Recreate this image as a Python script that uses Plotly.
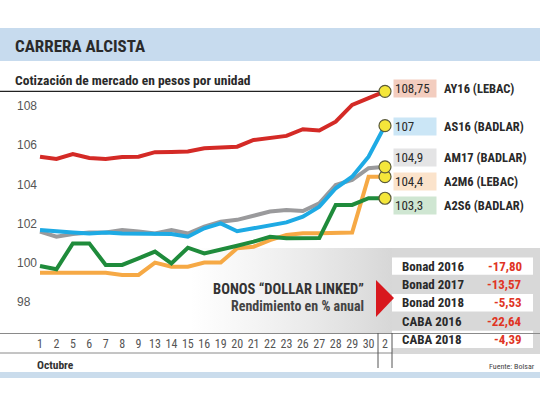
import plotly.graph_objects as go

# ---------------- data ----------------
dias = ["1", "2", "5", "6", "7", "8", "9", "13", "14", "15", "16", "19", "20",
        "21", "22", "23", "26", "27", "28", "29", "30", "2"]

ay16 = [105.42, 105.30, 105.55, 105.35, 105.30, 105.40, 105.42, 105.65, 105.66, 105.68, 105.85,
        105.88, 105.93, 106.27, 106.36, 106.48, 106.82, 106.75, 107.20, 108.06, 108.40, 108.75]
as16 = [101.68, 101.60, 101.55, 101.50, 101.55, 101.50, 101.48, 101.48, 101.48, 101.34, 101.77,
        102.02, 101.62, 101.77, 101.94, 102.07, 102.36, 102.87, 103.81, 104.40, 105.42, 107.00]
am17 = [101.60, 101.34, 101.48, 101.55, 101.55, 101.68, 101.60, 101.50, 101.68, 101.50, 101.85,
        102.10, 102.20, 102.40, 102.62, 102.70, 102.65, 103.04, 103.98, 104.23, 104.83, 104.90]
a2m6 = [99.50, 99.50, 99.50, 99.50, 99.50, 99.39, 99.39, 100.02, 99.81, 99.81, 100.02,
        100.02, 100.75, 100.83, 101.17, 101.43, 101.51, 101.51, 101.51, 101.55, 104.40, 104.40]
a2s6 = [99.85, 99.68, 101.00, 101.00, 99.90, 99.90, 100.24, 100.58, 99.98, 100.78, 100.49,
        100.66, 100.88, 101.09, 101.34, 101.26, 101.26, 101.27, 102.96, 102.96, 103.30, 103.30]

series_names = ["AY16 (LEBAC)", "AS16 (BADLAR)", "AM17 (BADLAR)", "A2M6 (LEBAC)", "A2S6 (BADLAR)"]
series_values = [ay16, as16, am17, a2m6, a2s6]
final_labels = ["108,75", "107", "104,9", "104,4", "103,3"]

y_ticks = [98, 100, 102, 104, 106, 108]

bonos = ["Bonad 2016", "Bonad 2017", "Bonad 2018", "CABA 2016", "CABA 2018"]
rendimiento = [-17.80, -13.57, -5.53, -22.64, -4.39]

# ---------------- styles ----------------
W, H = 540, 405
line_colors = ["#d42a26", "#1eaae4", "#9a9a9c", "#f6a945", "#1f8b3b"]
box_colors = ["#f3cdbf", "#cbe6f6", "#e4e4e5", "#fbe3cb", "#cfe6d2"]
label_yshift = [3, -1, 9, -5, -7]
draw_order = [0, 2, 1, 3, 4]
NARROW = "Liberation Sans Narrow, Roboto Condensed, Arial Narrow, sans-serif"
SANS = "Liberation Sans, Arial, sans-serif"


def px(x):
    return x / W


def py(y):
    return 1 - y / H


fig = go.Figure()

# base (decorative) axes in pixel space: gradient panel behind "dollar linked" text
fig.add_trace(go.Scatter(
    x=[190, 392, 392, 190, 190], y=[248, 248, 333, 333, 248],
    xaxis="x", yaxis="y", mode="lines", line=dict(width=0),
    fill="toself",
    fillgradient=dict(type="horizontal",
                      colorscale=[[0, "rgba(225,225,225,0)"], [1, "rgba(215,215,215,1)"]]),
    hoverinfo="skip", showlegend=False))

idx = list(range(len(dias)))
for k in draw_order:
    fig.add_trace(go.Scatter(
        x=idx, y=series_values[k], xaxis="x2", yaxis="y2", mode="lines",
        line=dict(color=line_colors[k], width=4), name=series_names[k],
        showlegend=False, hoverinfo="skip"))

# end markers (yellow)
fig.add_trace(go.Scatter(
    x=[idx[-1]] * len(series_values), y=[v[-1] for v in series_values][::-1],
    xaxis="x2", yaxis="y2", mode="markers", cliponaxis=False,
    marker=dict(size=12, color="#f4e63a", line=dict(color="#5a5a3a", width=1.2)),
    showlegend=False, hoverinfo="skip"))

# x-axis placement: index 0 -> px 40, last -> px 385
step = (385 - 40) / (len(dias) - 1)
x_r0 = -40 / step
x_r1 = (len(dias) - 1) + (W - 385) / step
# y-axis placement: value 100 -> px 263, 19.62 px per unit, bottom of domain at px 333
ppu = 19.62
y_bot_px, y_top_px = 333, 0
y_r0 = 100 - (y_bot_px - 263) / ppu
y_r1 = 100 + (263 - y_top_px) / ppu

shapes = [
    # header band
    dict(type="rect", xref="paper", yref="paper", x0=0, x1=1, y0=py(61), y1=py(28),
         fillcolor="#c7dbee", line=dict(width=0), layer="below"),
    # bottom band
    dict(type="rect", xref="paper", yref="paper", x0=0, x1=1, y0=py(378), y1=py(372),
         fillcolor="#cadcec", line=dict(width=0), layer="below"),
    # table grey background
    dict(type="rect", xref="paper", yref="paper", x0=px(392), x1=1, y0=py(354), y1=py(248),
         fillcolor="#d8d8d8", line=dict(width=0), layer="below"),
    # x-table lines
    dict(type="line", xref="paper", yref="paper", x0=0, x1=px(392), y0=py(353), y1=py(353),
         line=dict(color="#8a8a8a", width=1)),
    dict(type="line", xref="paper", yref="paper", x0=px(378), x1=px(378), y0=py(368), y1=py(333),
         line=dict(color="#555", width=1)),
    dict(type="line", xref="paper", yref="paper", x0=px(392), x1=px(392), y0=py(368), y1=py(333),
         line=dict(color="#555", width=1)),
    # black rule under subtitle, meeting the AY16 end point
    dict(type="line", xref="x2", yref="y2", x0=x_r0, x1=idx[-1], y0=ay16[-1], y1=ay16[-1],
         line=dict(color="#222", width=1.3), layer="below"),
    # red triangle
    dict(type="path", xref="paper", yref="paper",
         path=f"M {px(376)} {py(280)} L {px(394)} {py(298)} L {px(376)} {py(317)} Z",
         fillcolor="#d8181e", line=dict(width=0)),
]

# table rows
row_top = 257
row_h = 18.3
for i in range(len(bonos)):
    y0 = row_top + i * row_h
    if i % 2 == 0:
        shapes.append(dict(type="rect", xref="paper", yref="paper", x0=px(392), x1=px(533),
                           y0=py(y0 + row_h - 0.5), y1=py(y0 + 0.5),
                           fillcolor="white", line=dict(width=0), layer="below"))

annotations = [
    dict(text="<b>CARRERA ALCISTA</b>", x=px(13), y=py(46), xref="paper", yref="paper",
         xanchor="left", yanchor="middle", showarrow=False,
         font=dict(family=NARROW, size=17, color="#2a2a2a")),
    dict(text="<b>Cotización de mercado en pesos por unidad</b>", x=px(13), y=py(80),
         xref="paper", yref="paper", xanchor="left", yanchor="middle", showarrow=False,
         font=dict(family=NARROW, size=13.5, color="#2a2a2a")),
    dict(text="<b>BONOS “DOLLAR LINKED”</b>", x=px(366), y=py(289), xref="paper", yref="paper",
         xanchor="right", yanchor="middle", showarrow=False,
         font=dict(family=NARROW, size=14.5, color="#333")),
    dict(text="<b>Rendimiento en % anual</b>", x=px(366), y=py(306), xref="paper", yref="paper",
         xanchor="right", yanchor="middle", showarrow=False,
         font=dict(family=NARROW, size=14, color="#444")),
    dict(text="<b>Octubre</b>", x=px(35), y=py(365), xref="paper", yref="paper",
         xanchor="left", yanchor="middle", showarrow=False,
         font=dict(family=NARROW, size=11.5, color="#333")),
    dict(text="Fuente: Bolsar", x=px(537), y=py(366), xref="paper", yref="paper",
         xanchor="right", yanchor="middle", showarrow=False,
         font=dict(family=NARROW, size=8, color="#444")),
]

for vals, lab, name, bc, ys in zip(series_values, final_labels, series_names, box_colors, label_yshift):
    annotations.append(dict(
        text=lab, x=idx[-1], y=vals[-1], xref="x2", yref="y2", xanchor="left", yanchor="middle",
        xshift=8, yshift=ys, showarrow=False, bgcolor=bc, width=40, height=15, align="left",
        borderpad=1, font=dict(family=NARROW, size=13, color="#2a2a2a")))
    annotations.append(dict(
        text=f"<b>{name}</b>", x=idx[-1], y=vals[-1], xref="x2", yref="y2", xanchor="left",
        yanchor="middle", xshift=57, yshift=ys, showarrow=False,
        font=dict(family=NARROW, size=12.5, color="#2a2a2a")))

for i, (b, r) in enumerate(zip(bonos, rendimiento)):
    yc = row_top + i * row_h + row_h / 2
    annotations.append(dict(text=f"<b>{b}</b>", x=px(400), y=py(yc), xref="paper", yref="paper",
                            xanchor="left", yanchor="middle", showarrow=False,
                            font=dict(family=NARROW, size=13, color="#2a2a2a")))
    annotations.append(dict(text="<b>" + f"{r:.2f}".replace(".", ",") + "</b>", x=px(524), y=py(yc),
                            xref="paper", yref="paper", xanchor="right", yanchor="middle",
                            showarrow=False, font=dict(family=NARROW, size=13, color="#e03424")))

fig.update_layout(
    width=W, height=H, autosize=False,
    margin=dict(l=0, r=0, t=0, b=0),
    paper_bgcolor="white", plot_bgcolor="rgba(0,0,0,0)",
    showlegend=False,
    xaxis=dict(domain=[0, 1], range=[0, W], visible=False, fixedrange=True),
    yaxis=dict(domain=[0, 1], range=[H, 0], visible=False, fixedrange=True),
    xaxis2=dict(domain=[0, 1], range=[x_r0, x_r1], anchor="y2",
                tickmode="array", tickvals=idx, ticktext=dias, ticks="",
                showgrid=False, zeroline=False, showline=True, linecolor="#8a8a8a", linewidth=1,
                tickfont=dict(family=NARROW, size=12, color="#555")),
    yaxis2=dict(domain=[py(y_bot_px), py(y_top_px)], range=[y_r0, y_r1],
                anchor="x2", tickmode="array", tickvals=y_ticks, ticktext=[str(t) for t in y_ticks],
                ticks="", ticklabelposition="inside", ticklabelstandoff=14,
                showgrid=False, zeroline=False, showline=False,
                tickfont=dict(family=SANS, size=12, color="#555")),
    shapes=shapes,
    annotations=annotations,
)

fig.write_html("out.html", config={"displayModeBar": False},
               post_script="document.body.style.margin='0';document.body.style.overflow='hidden';")
